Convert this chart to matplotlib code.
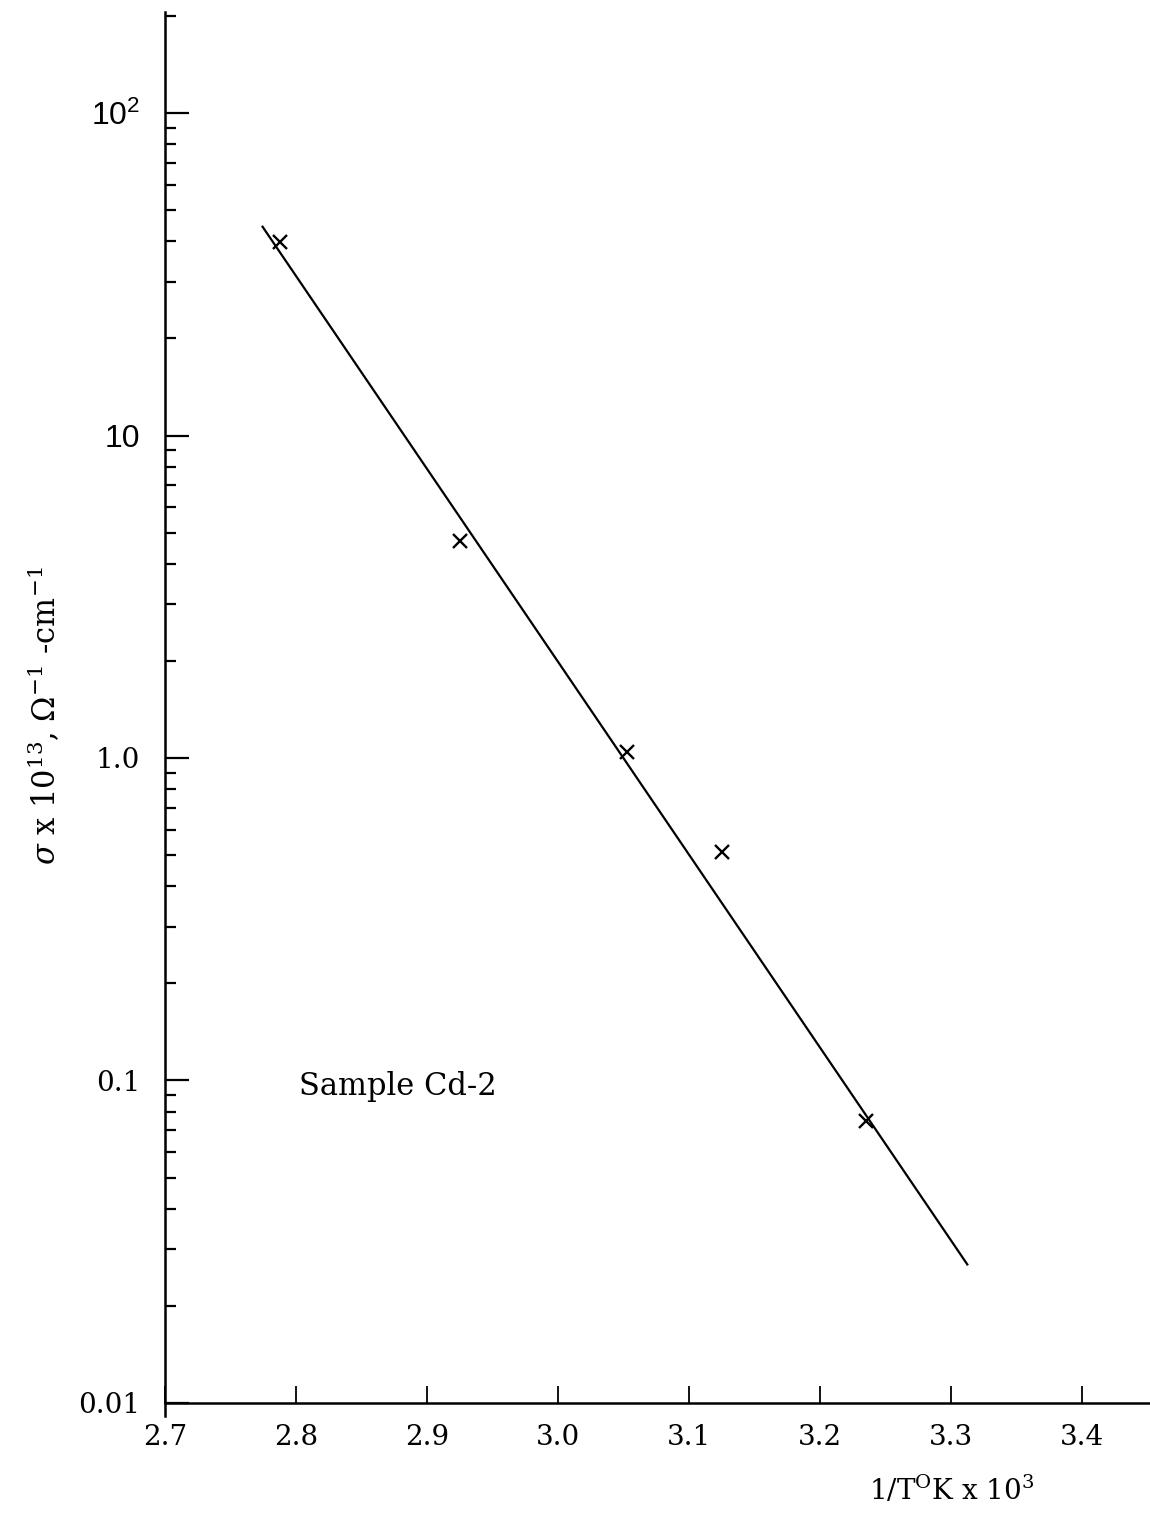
import matplotlib
matplotlib.use("Agg")
import matplotlib.pyplot as plt
from matplotlib.ticker import FixedLocator, NullFormatter

plt.rcParams['font.family'] = ['DejaVu Serif']
plt.rcParams['mathtext.fontset'] = 'dejavuserif'

# Measured conductivity of sample Cd-2
inv_temp = [2.788, 2.925, 3.053, 3.125, 3.235]          # 1/T (K) x 10^3
sigma = [39.8, 4.72, 1.04, 0.51, 0.075]                  # sigma x 10^13, ohm^-1 cm^-1

# Straight-line fit through the points (end points)
fit_x = [2.774, 3.313]
fit_y = [44.7, 0.0267]

x_ticks = [2.7, 2.8, 2.9, 3.0, 3.1, 3.2, 3.3, 3.4]
x_tick_labels = ['2.7', '2.8', '2.9', '3.0', '3.1', '3.2', '3.3', '3.4']
y_ticks = [0.01, 0.1, 1.0, 10, 100]
y_tick_labels = ['0.01', '0.1', '1.0', '10', r'$\mathregular{10^2}$']
y_minor = [m * d for d in (0.01, 0.1, 1, 10, 100) for m in range(2, 10)]

fig = plt.figure(figsize=(11.5, 15.16), dpi=100)
ax = fig.add_axes([0.1435, 0.066, 0.8565, 0.926])
ax.set_yscale('log')
ax.set_xlim(2.7, 3.452)
ax.set_ylim(0.00911, 205.6)

ax.plot(fit_x, fit_y, color='black', lw=1.6, solid_capstyle='butt')
ax.plot(inv_temp, sigma, ls='none', marker='x', ms=10, mew=1.7, color='black')

for side in ('top', 'right'):
    ax.spines[side].set_visible(False)
ax.spines['bottom'].set_position(('data', 0.01))
for side in ('left', 'bottom'):
    ax.spines[side].set_linewidth(1.8)

ax.set_xticks(x_ticks, labels=x_tick_labels)
ax.tick_params(axis='x', direction='in', length=12, width=1.3, pad=15,
               labelsize=20)
ax.set_yticks(y_ticks, labels=y_tick_labels)
ax.yaxis.set_minor_locator(FixedLocator([v for v in y_minor if v < 205]))
ax.yaxis.set_minor_formatter(NullFormatter())
ax.tick_params(axis='y', which='major', direction='in', length=17, width=1.6,
               pad=18, labelsize=20)
ax.tick_params(axis='y', which='minor', direction='in', length=8, width=1.6)
for lbl in ax.get_yticklabels():
    if lbl.get_text() in ('10', r'$\mathregular{10^2}$'):
        lbl.set_fontfamily('Liberation Sans')
        lbl.set_fontsize(23)

ax.text(2.802, 0.096, 'Sample Cd-2', fontsize=22, va='center', ha='left')

fig.text(952 / 1150, 1 - 1490 / 1516, r'1/T$^{\mathrm{O}}$K x 10$^{3}$',
         fontsize=20, ha='center', va='center')
fig.text(45 / 1150, 1 - 716 / 1516,
         r'$\sigma$ x 10$^{13}$, $\Omega^{-1}$ -cm$^{-1}$',
         fontsize=22, rotation=90, ha='center', va='center')

fig.savefig('out.png', dpi=100, facecolor='white')
